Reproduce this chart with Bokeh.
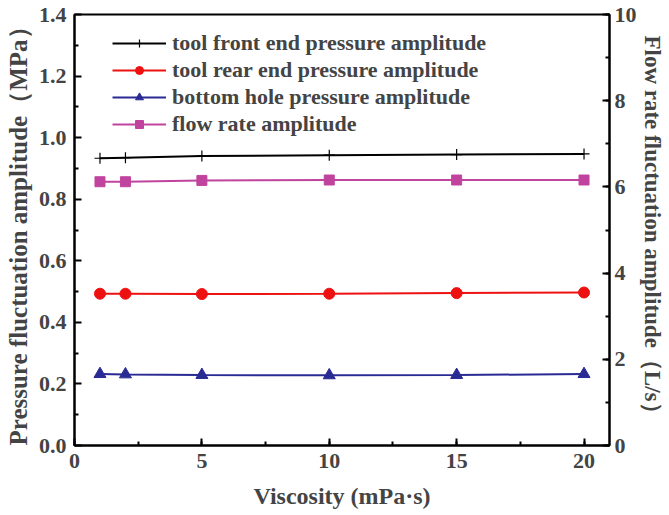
from bokeh.plotting import figure
from bokeh.models import Range1d, LinearAxis, SingleIntervalTicker, FixedTicker, NumeralTickFormatter
from bokeh.embed import file_html
from bokeh.resources import INLINE

viscosity = [1, 2, 5, 10, 15, 20]
front_end = [0.933, 0.935, 0.940, 0.943, 0.945, 0.947]
rear_end = [0.493, 0.493, 0.492, 0.493, 0.495, 0.497]
bottom_hole = [0.232, 0.231, 0.229, 0.228, 0.229, 0.232]
flow_rate = [6.12, 6.12, 6.15, 6.16, 6.16, 6.16]
pressure_ticks = [0.0, 0.2, 0.4, 0.6, 0.8, 1.0, 1.2, 1.4]
pressure_minor = [0.1, 0.3, 0.5, 0.7, 0.9, 1.1, 1.3]

FONT = "Liberation Serif"

p = figure(width=669, height=515, output_backend="svg", toolbar_location=None,
           x_range=Range1d(0, 21), y_range=Range1d(0, 1.4),
           min_border_left=74, min_border_right=60, min_border_top=14, min_border_bottom=70)
p.extra_y_ranges = {"flow": Range1d(0, 10)}

p.xgrid.visible = False
p.ygrid.visible = False
p.outline_line_color = "black"
p.outline_line_width = 2
p.background_fill_color = "white"
p.border_fill_color = "white"

def style_axis(ax, label, title_size):
    ax.axis_label = label
    ax.axis_label_text_font = FONT
    ax.axis_label_text_font_style = "bold"
    ax.axis_label_text_font_size = title_size
    ax.major_label_text_font = FONT
    ax.major_label_text_font_style = "bold"
    ax.major_label_text_font_size = "22px"
    ax.axis_line_width = 2
    ax.major_tick_in = 7
    ax.major_tick_out = 0
    ax.minor_tick_in = 4
    ax.minor_tick_out = 0
    ax.major_tick_line_width = 2
    ax.minor_tick_line_width = 2

xa = p.xaxis[0]
style_axis(xa, "Viscosity (mPa·s)", "24px")
xa.ticker = SingleIntervalTicker(interval=5, num_minor_ticks=2)
xa.major_label_standoff = 8
xa.axis_label_standoff = 12

ya = p.yaxis[0]
style_axis(ya, "Pressure fluctuation amplitude（MPa）", "25px")
ya.ticker = FixedTicker(ticks=pressure_ticks, minor_ticks=pressure_minor)
ya.formatter = NumeralTickFormatter(format="0.0")
ya.major_label_standoff = 8
ya.axis_label_standoff = 4

ra = LinearAxis(y_range_name="flow")
style_axis(ra, "Flow rate fluctuation amplitude（L/s）", "23px")
ra.ticker = SingleIntervalTicker(interval=2, num_minor_ticks=2)
ra.major_label_standoff = 5
ra.axis_label_standoff = 0
p.add_layout(ra, "right")

lbl1 = "tool front end pressure amplitude"
lbl2 = "tool rear end pressure amplitude"
lbl3 = "bottom hole pressure amplitude"
lbl4 = "flow rate amplitude"

p.line(viscosity, front_end, color="black", line_width=2, legend_label=lbl1)
p.scatter(viscosity, front_end, marker="cross", size=11, color="black", line_width=1.2, legend_label=lbl1)

p.line(viscosity, rear_end, color="#ee1111", line_width=2, legend_label=lbl2)
p.scatter(viscosity, rear_end, marker="circle", size=11, color="#ee1111", legend_label=lbl2)

p.line(viscosity, bottom_hole, color="#2a2a95", line_width=2, legend_label=lbl3)
p.scatter(viscosity, bottom_hole, marker="triangle", size=12, color="#2a2a95", legend_label=lbl3)

p.line(viscosity, flow_rate, color="#c0449e", line_width=2, legend_label=lbl4, y_range_name="flow")
p.scatter(viscosity, flow_rate, marker="square", size=10, color="#c0449e", legend_label=lbl4, y_range_name="flow")

lg = p.legend[0]
lg.location = (38, 308)
lg.margin = 0
lg.padding = 0
lg.border_line_alpha = 0
lg.background_fill_alpha = 0
lg.label_text_font = FONT
lg.label_text_font_style = "bold"
lg.label_text_font_size = "22px"
lg.glyph_width = 54
lg.glyph_height = 20
lg.spacing = 1
lg.label_standoff = 6
lg.label_height = 20

open("out.html", "w").write(file_html(p, INLINE))
